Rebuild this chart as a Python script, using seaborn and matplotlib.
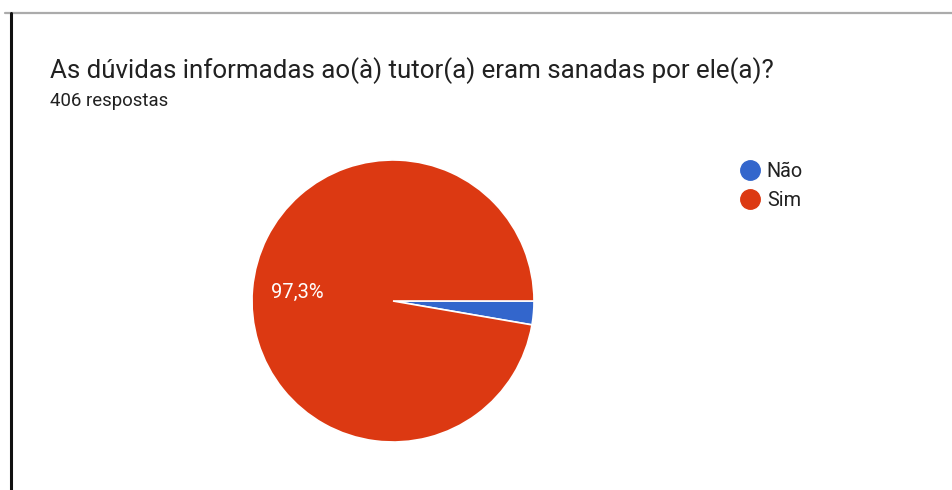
import matplotlib
matplotlib.use("Agg")
import matplotlib.pyplot as plt
from matplotlib.lines import Line2D
import seaborn as sns

# Survey answers
categories = ["Não", "Sim"]
counts = [11, 395]
title = "As dúvidas informadas ao(à) tutor(a) eram sanadas por ele(a)?"
subtitle = "406 respostas"

sns.set_theme(style="white")
plt.rcParams["font.family"] = ["Roboto", "DejaVu Sans"]

colors = ["#3366CC", "#DC3912"]
text_color = "#212121"

fig = plt.figure(figsize=(9.52, 4.90), dpi=100)
W, H = 952, 490

def fx(px):
    return px / W

def fy(py):
    return 1 - py / H

# frame lines around the card
fig.add_artist(Line2D([fx(5), fx(952)], [fy(13.5), fy(13.5)], color="#ababab", lw=1.6))
fig.add_artist(Line2D([fx(11), fx(11)], [fy(13), fy(490)], color="#111111", lw=2.2))

fig.text(fx(50), fy(71), title, fontsize=18.6, color=text_color, va="center", ha="left")
fig.text(fx(50), fy(101), subtitle, fontsize=13.4, color=text_color, va="center", ha="left")

# pie area
cx, cy, r = 393, 301, 141
ax = fig.add_axes([fx(cx - r), fy(cy + r), (2 * r) / W, (2 * r) / H])

def fmt(pct):
    return f"{pct:.1f}".replace(".", ",") + "%" if pct > 5 else ""

wedges, texts, autotexts = ax.pie(
    counts,
    colors=colors,
    startangle=0,
    counterclock=False,
    autopct=fmt,
    pctdistance=0.68,
    wedgeprops=dict(edgecolor="white", linewidth=1.2),
    textprops=dict(color="white", fontsize=14.5),
    radius=1.0,
)
ax.set_xlim(-1.0, 1.0)
ax.set_ylim(-1.0, 1.0)
ax.set_aspect("equal")
ax.axis("off")

# legend
handles = [Line2D([], [], marker="o", linestyle="none", markersize=14,
                  markerfacecolor=c, markeredgecolor=c) for c in colors]
leg = fig.legend(handles, categories, loc="upper left",
                 bbox_to_anchor=(fx(740), fy(162)), frameon=False,
                 fontsize=14.3, handletextpad=0.35, labelspacing=0.5,
                 borderaxespad=0, borderpad=0, handlelength=1.0)
for t in leg.get_texts():
    t.set_color(text_color)

fig.savefig("out.png", dpi=100, facecolor="white")
